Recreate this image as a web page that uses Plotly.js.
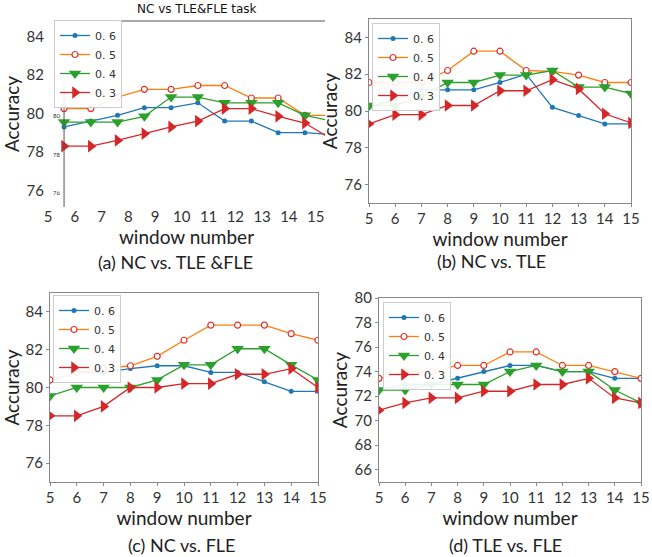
<!DOCTYPE html>
<html><head><meta charset="utf-8">
<script src="https://cdn.plot.ly/plotly-3.0.1.min.js"></script>
<style>html,body{margin:0;padding:0;background:#fff}#chart{width:652px;height:557px}</style>
</head><body><div id="chart"></div>
<script>
// ---- data ----
const windows = [5, 6, 7, 8, 9, 10, 11, 12, 13, 14, 15];
const seriesNames = ['0. 6', '0. 5', '0. 4', '0. 3'];

const panelA_06 = [79.3, 79.6, 79.9, 80.3, 80.3, 80.55, 79.6, 79.6, 79.0, 79.0, 78.9];
const panelA_05 = [80.25, 80.25, 80.85, 81.25, 81.25, 81.45, 81.45, 80.8, 80.8, 79.9, 79.9];
const panelA_04 = [79.55, 79.55, 79.55, 79.85, 80.85, 80.85, 80.55, 80.55, 80.55, 79.9, 79.6];
const panelA_03 = [78.3, 78.3, 78.6, 78.95, 79.3, 79.6, 80.25, 80.25, 79.85, 79.5, 78.65];

const panelB_06 = [80.2, 80.65, 81.15, 81.15, 81.15, 81.55, 82.0, 80.2, 79.75, 79.3, 79.3];
const panelB_05 = [81.55, 81.55, 81.55, 82.2, 83.25, 83.25, 82.2, 82.15, 81.95, 81.55, 81.55];
const panelB_04 = [80.3, 80.3, 80.8, 81.55, 81.55, 81.95, 81.95, 82.2, 81.3, 81.3, 80.95];
const panelB_03 = [79.3, 79.8, 79.8, 80.3, 80.3, 81.1, 81.1, 81.7, 81.2, 79.85, 79.35];

const panelC_06 = [80.35, 80.8, 80.8, 81.0, 81.15, 81.15, 80.8, 80.8, 80.3, 79.8, 79.8];
const panelC_05 = [80.4, 80.8, 81.0, 81.15, 81.65, 82.5, 83.3, 83.3, 83.3, 82.85, 82.5];
const panelC_04 = [79.55, 80.0, 80.0, 80.0, 80.4, 81.2, 81.2, 82.05, 82.05, 81.2, 80.4];
const panelC_03 = [78.5, 78.5, 79.0, 80.0, 80.0, 80.2, 80.2, 80.7, 80.7, 81.0, 80.0];

const panelD_06 = [72.5, 72.95, 72.95, 73.45, 74.0, 74.5, 74.5, 74.0, 74.0, 73.45, 73.45];
const panelD_05 = [73.45, 74.0, 74.0, 74.5, 74.5, 75.6, 75.6, 74.5, 74.5, 74.0, 73.45];
const panelD_04 = [72.5, 72.5, 72.95, 72.95, 72.95, 74.0, 74.5, 74.0, 74.0, 72.5, 71.45];
const panelD_03 = [70.85, 71.45, 71.85, 71.85, 72.4, 72.4, 72.95, 72.95, 73.45, 71.85, 71.45];

const yTicksABC = [76, 78, 80, 82, 84];
const yTicksSmallA = [76, 78, 80];
const yTicksD = [66, 68, 70, 72, 74, 76, 78, 80];
const captions = ['(a) NC vs. TLE &FLE', '(b) NC vs. TLE', '(c) NC vs. FLE', '(d) TLE vs. FLE'];
const xTitle = 'window number';
const yTitle = 'Accuracy';
const topTitleA = 'NC vs TLE&FLE task';

// ---- styles ----
const W = 652, H = 557;
const px = v => v / W, py = v => 1 - v / H;
const colors = ['#1f77b4', '#ff7f0e', '#2ca02c', '#d62728'];
const markers = [
  {symbol: 'circle', size: 5, color: '#1f77b4'},
  {symbol: 'circle', size: 6, color: '#ffffff', line: {color: '#e0302a', width: 1.2}},
  {symbol: 'triangle-down', size: 11, color: '#2ca02c'},
  {symbol: 'triangle-right', size: 11, color: '#d62728'}
];
const panels = [
  [panelA_06, panelA_05, panelA_04, panelA_03],
  [panelB_06, panelB_05, panelB_04, panelB_03],
  [panelC_06, panelC_05, panelC_04, panelC_03],
  [panelD_06, panelD_05, panelD_04, panelD_03]
];

const traces = [];
panels.forEach((series, p) => {
  const suf = p === 0 ? '' : String(p + 1);
  series.forEach((vals, s) => {
    traces.push({
      type: 'scatter', mode: 'lines+markers',
      x: windows, y: vals, name: seriesNames[s],
      xaxis: 'x' + suf, yaxis: 'y' + suf, legend: 'legend' + suf,
      line: {color: colors[s], width: 1.3},
      marker: markers[s]
    });
  });
});
// empty trace so the small duplicate tick-label axis of panel (a) is drawn
traces.push({type: 'scatter', mode: 'markers', x: [], y: [], xaxis: 'x', yaxis: 'y5',
  showlegend: false, hoverinfo: 'skip'});

const tickFont = {family: 'Lato, "Open Sans", sans-serif', size: 15, color: '#333'};
const titleFont = {family: 'Lato, "Open Sans", sans-serif', size: 19, color: '#222'};
const captionFont = {family: 'Lato, "Open Sans", sans-serif', size: 18, color: '#222'};

function boxAxisX(domain) {
  return {domain, range: [5, 15], tickvals: windows, showline: true, mirror: true,
    linecolor: '#888', linewidth: 1, ticks: 'outside', ticklen: 3, tickcolor: '#888',
    showgrid: false, zeroline: false, tickfont: tickFont, ticklabelstandoff: -1,
    title: {text: xTitle, font: titleFont, standoff: 0}};
}
function boxAxisY(domain, range, ticks, anchor) {
  return {domain, range, tickvals: ticks, anchor, showline: true, mirror: true,
    linecolor: '#888', linewidth: 1, ticks: 'outside', ticklen: 3, tickcolor: '#888',
    showgrid: false, zeroline: false, tickfont: tickFont,
    title: {text: yTitle, font: titleFont, standoff: 1}};
}
function legendAt(x, y) {
  return {x: px(x), y: py(y), xanchor: 'left', yanchor: 'top',
    bgcolor: 'rgba(255,255,255,0.9)', bordercolor: '#ccc', borderwidth: 1,
    font: {family: '"DejaVu Sans", sans-serif', size: 11, color: '#333'},
    tracegroupgap: 0, itemwidth: 30, traceorder: 'normal'};
}
function label(text, x, y, font) {
  return {text, xref: 'paper', yref: 'paper', x: px(x), y: py(y), showarrow: false,
    xanchor: 'center', yanchor: 'middle', font};
}

const layout = {
  width: W, height: H, margin: {l: 0, r: 0, t: 0, b: 0},
  paper_bgcolor: '#fff', plot_bgcolor: '#fff', showlegend: true,
  xaxis: {domain: [px(48), px(325)], range: [4.4, 14.75], anchor: 'y',
    tickvals: windows.map(w => w - 0.6), ticktext: windows.map(String),
    showline: false, ticks: '', showgrid: false, zeroline: false, tickfont: tickFont,
    ticklabelstandoff: -1,
    title: {text: xTitle, font: titleFont, standoff: 0}},
  yaxis: {domain: [py(207), py(21)], range: [75.14, 84.8], anchor: 'x',
    tickvals: yTicksABC, showline: false, ticks: '', showgrid: false, zeroline: false,
    ticklabelstandoff: 3,
    tickfont: tickFont, title: {text: yTitle, font: titleFont, standoff: 3}},
  yaxis5: {overlaying: 'y', anchor: 'free', position: px(60), side: 'left',
    range: [75.27, 84.93], tickvals: yTicksSmallA, showline: false, ticks: '',
    showgrid: false, zeroline: false,
    tickfont: {family: 'Lato, sans-serif', size: 6, color: '#333'}},
  xaxis2: Object.assign(boxAxisX([px(369), px(631)]), {anchor: 'y2'}),
  yaxis2: boxAxisY([py(203), py(19)], [75, 85], yTicksABC, 'x2'),
  xaxis3: Object.assign(boxAxisX([px(50), px(318)]), {anchor: 'y3'}),
  yaxis3: boxAxisY([py(482), py(293)], [75, 85], yTicksABC, 'x3'),
  xaxis4: Object.assign(boxAxisX([px(379), px(641)]), {anchor: 'y4'}),
  yaxis4: boxAxisY([py(482), py(298)], [65, 80], yTicksD, 'x4'),
  legend: legendAt(54, 20),
  legend2: legendAt(372, 23),
  legend3: legendAt(53, 295),
  legend4: legendAt(383, 302),
  shapes: [
    {type: 'line', xref: 'x', yref: 'paper', x0: 5, x1: 5, y0: py(207), y1: py(85),
     line: {color: '#555', width: 1}},
    {type: 'line', xref: 'paper', yref: 'paper', x0: px(113), x1: px(325), y0: py(21), y1: py(21),
     line: {color: '#555', width: 1}}
  ],
  annotations: [
    Object.assign(label(topTitleA, 197, 18, {family: '"DejaVu Sans", sans-serif', size: 12, color: '#111'}),
      {yanchor: 'bottom'}),
    label(captions[0], 175, 262, captionFont),
    label(captions[1], 491, 261, captionFont),
    label(captions[2], 182, 545, captionFont),
    label(captions[3], 505, 545, captionFont)
  ]
};

Plotly.newPlot('chart', traces, layout, {displayModeBar: false, staticPlot: true});
</script></body></html>
